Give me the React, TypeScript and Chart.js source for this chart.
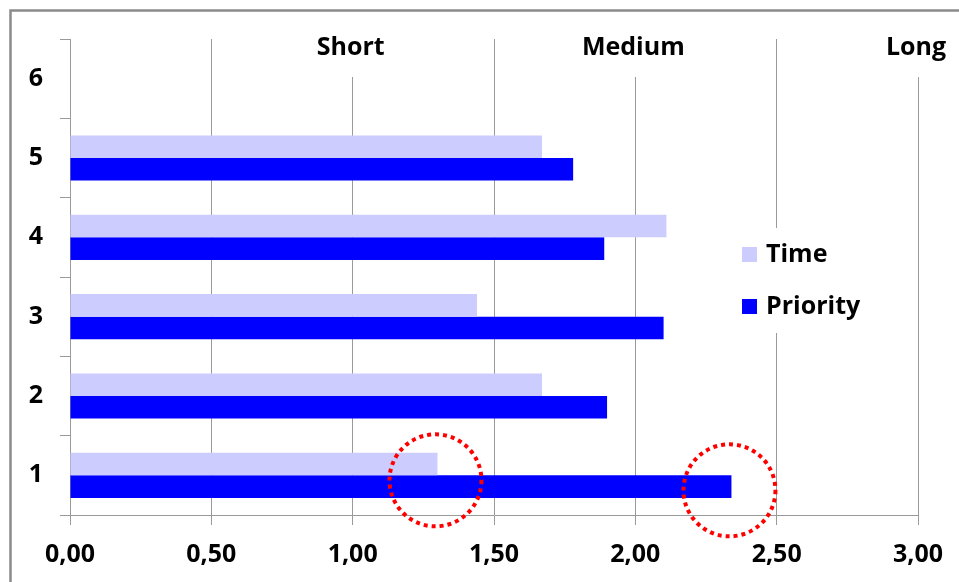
import React, { useEffect, useRef } from "react";
import { Chart, registerables } from "chart.js";

Chart.register(...registerables);

const categories = ["1", "2", "3", "4", "5", "6"];
const seriesNames = ["Time", "Priority"];
const timeValues = [1.3, 1.67, 1.44, 2.11, 1.67, null];
const priorityValues = [2.34, 1.9, 2.1, 1.89, 1.78, null];
const seriesColors = ["#ccccff", "#0000ff"];
const horizonLabels = ["Short", "Medium", "Long"];
const horizonValues = [1, 2, 3];
const highlightValues = [1.3, 2.34];

const FONT = '"Open Sans", "DejaVu Sans", sans-serif';
const FSIZE = 25;

const decorPlugin = {
  id: "decor",
  beforeDraw(chart: any) {
    const ctx = chart.ctx;
    ctx.save();
    ctx.fillStyle = "#ffffff";
    ctx.fillRect(0, 0, chart.width, chart.height);
    ctx.strokeStyle = "#8a8a8a";
    ctx.lineWidth = 2.5;
    ctx.strokeRect(10.5, 10.5, chart.width + 20, chart.height + 20);
    ctx.restore();
  },
  afterDatasetsDraw(chart: any) {
    const ctx = chart.ctx;
    const x = chart.scales.x;
    const y = chart.scales.y;
    const area = chart.chartArea;
    ctx.save();
    // horizon labels at top
    ctx.font = `bold ${FSIZE}px ${FONT}`;
    ctx.textAlign = "center";
    ctx.textBaseline = "middle";
    horizonLabels.forEach((t, i) => {
      const px = x.getPixelForValue(horizonValues[i]);
      const w = ctx.measureText(t).width;
      ctx.fillStyle = "#ffffff";
      ctx.fillRect(px - w / 2 - 6, area.top, w + 12, 38);
      ctx.fillStyle = "#000000";
      ctx.fillText(t, px - 2, area.top + 9);
    });
    // legend
    ctx.fillStyle = "#ffffff";
    ctx.fillRect(735, 228, 130, 105);
    ctx.textAlign = "left";
    seriesNames.forEach((name, i) => {
      const cy = 255 + i * 52;
      ctx.fillStyle = seriesColors[i];
      ctx.fillRect(742, cy - 8, 15, 15);
      ctx.fillStyle = "#000000";
      ctx.fillText(name, 766, cy);
    });
    // red dotted circles
    const cat = y.getPixelForValue(0);
    const dys = [5, 15];
    ctx.strokeStyle = "#ff0000";
    ctx.lineWidth = 4;
    ctx.setLineDash([4, 4]);
    highlightValues.forEach((v, i) => {
      ctx.beginPath();
      ctx.arc(x.getPixelForValue(v) - 2, cat + dys[i], 46, 0, Math.PI * 2);
      ctx.stroke();
    });
    ctx.restore();
  },
};

export default function App() {
  const ref = useRef<HTMLCanvasElement | null>(null);
  useEffect(() => {
    if (!ref.current) return;
    const chart = new Chart(ref.current, {
      type: "bar",
      data: {
        labels: categories,
        datasets: [
          {
            label: seriesNames[0],
            data: timeValues as any,
            backgroundColor: seriesColors[0],
            categoryPercentage: 0.57,
            barPercentage: 1.0,
          },
          {
            label: seriesNames[1],
            data: priorityValues as any,
            backgroundColor: seriesColors[1],
            categoryPercentage: 0.57,
            barPercentage: 1.0,
          },
        ],
      },
      options: {
        indexAxis: "y",
        responsive: false,
        animation: false,
        layout: { padding: { top: 39, right: 41, left: 0, bottom: 0 } },
        plugins: { legend: { display: false }, tooltip: { enabled: false } },
        scales: {
          x: {
            min: 0,
            max: 3,
            afterFit: (s: any) => {
              s.height = 67;
            },
            ticks: {
              stepSize: 0.5,
              font: { family: FONT, size: FSIZE, weight: "bold" },
              color: "#000000",
              padding: 15,
              callback: (v: any) => Number(v).toFixed(2).replace(".", ","),
            },
            grid: { color: "#9a9a9a", lineWidth: 1, tickLength: 10, drawOnChartArea: true },
            border: { color: "#9a9a9a", width: 1 },
          },
          y: {
            reverse: true,
            afterFit: (s: any) => {
              s.width = 70;
            },
            ticks: {
              font: { family: FONT, size: FSIZE, weight: "bold" },
              color: "#000000",
              padding: 17,
            },
            grid: { color: "#9a9a9a", drawOnChartArea: false, drawTicks: true, tickLength: 10, offset: true },
            border: { color: "#9a9a9a", width: 1 },
          },
        },
      },
      plugins: [decorPlugin],
    });
    return () => chart.destroy();
  }, []);
  return (
    <div style={{ position: "fixed", left: 0, top: 0, width: 959, height: 582 }}>
      <canvas ref={ref} width={959} height={582} style={{ width: 959, height: 582 }} />
    </div>
  );
}
